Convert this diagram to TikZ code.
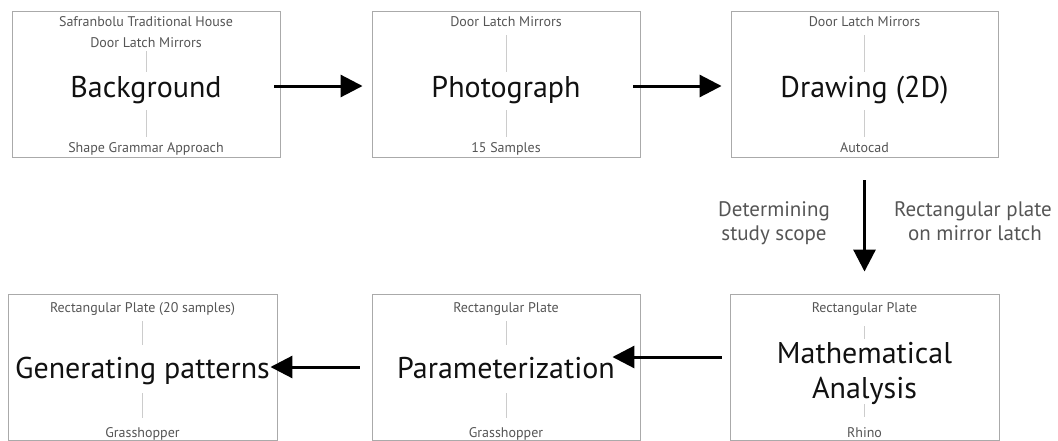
\documentclass[tikz,border=0pt]{standalone}
\usepackage{fontspec}
\setmainfont{PT Sans}
\usetikzlibrary{arrows.meta}
\definecolor{boxgray}{HTML}{AAAAAA}
\definecolor{smalltxt}{HTML}{555555}
\definecolor{sepgray}{HTML}{CCCCCC}
\definecolor{bigtxt}{HTML}{111111}
\begin{document}
\begin{tikzpicture}[x=1pt,y=-1pt,
  stagebox/.style={draw=boxgray,line width=0.9pt,minimum width=#1,minimum height=146pt,inner sep=0pt},
  small/.style={text=smalltxt,font=\fontsize{14}{16}\selectfont,inner sep=0pt,anchor=base,align=center},
  big/.style={text=bigtxt,font=\fontsize{30}{36}\selectfont,inner sep=0pt,anchor=base,align=center},
  lbl/.style={text=smalltxt,font=\fontsize{21}{25}\selectfont,inner sep=0pt,anchor=base,align=center},
  sep/.style={draw=sepgray,line width=0.9pt},
  flow/.style={line width=3pt,-{Triangle[length=22pt,width=22pt]}}]
\useasboundingbox (0,0) rectangle (1058,440);
% boxes
\node[stagebox=268pt] (b1) at (146,84) {};
\node[stagebox=268pt] (b2) at (506,84) {};
\node[stagebox=267pt] (b3) at (864.5,84) {};
\node[stagebox=269pt] (b4) at (142.5,367) {};
\node[stagebox=268pt] (b5) at (506,367) {};
\node[stagebox=269pt] (b6) at (864.5,367) {};
% box 1
\node[small] (t1a) at (146,26) {Safranbolu Traditional House};
\node[small] (t1b) at (146,47) {Door Latch Mirrors};
\node[big] (t1c) at (146,97) {Background};
\node[small] (t1d) at (146,152) {Shape Grammar Approach};
\coordinate (s1a) at (146,51); \coordinate (s1b) at (146,72);
\coordinate (s1c) at (146,110); \coordinate (s1d) at (146,137);
\draw[sep] (s1a) -- (s1b); \draw[sep] (s1c) -- (s1d);
% box 2
\node[small] (t2b) at (506,26) {Door Latch Mirrors};
\node[big] (t2c) at (506,97) {Photograph};
\node[small] (t2d) at (506,152) {15 Samples};
\coordinate (s2a) at (506,35); \coordinate (s2b) at (506,72);
\coordinate (s2c) at (506,110); \coordinate (s2d) at (506,137);
\draw[sep] (s2a) -- (s2b); \draw[sep] (s2c) -- (s2d);
% box 3
\node[small] (t3b) at (864.5,26) {Door Latch Mirrors};
\node[big] (t3c) at (864.5,97) {Drawing (2D)};
\node[small] (t3d) at (864.5,152) {Autocad};
\coordinate (s3a) at (864.5,35); \coordinate (s3b) at (864.5,72);
\coordinate (s3c) at (864.5,110); \coordinate (s3d) at (864.5,137);
\draw[sep] (s3a) -- (s3b); \draw[sep] (s3c) -- (s3d);
% box 4
\node[small] (t4b) at (142.5,312) {Rectangular Plate (20 samples)};
\node[big] (t4c) at (142.5,378) {Generating patterns};
\node[small] (t4d) at (142.5,437) {Grasshopper};
\coordinate (s4a) at (142.5,321); \coordinate (s4b) at (142.5,345);
\coordinate (s4c) at (142.5,393); \coordinate (s4d) at (142.5,418);
\draw[sep] (s4a) -- (s4b); \draw[sep] (s4c) -- (s4d);
% box 5
\node[small] (t5b) at (506,312) {Rectangular Plate};
\node[big] (t5c) at (506,378) {Parameterization};
\node[small] (t5d) at (506,437) {Grasshopper};
\coordinate (s5a) at (506,321); \coordinate (s5b) at (506,345);
\coordinate (s5c) at (506,393); \coordinate (s5d) at (506,418);
\draw[sep] (s5a) -- (s5b); \draw[sep] (s5c) -- (s5d);
% box 6
\node[small] (t6b) at (864.5,312) {Rectangular Plate};
\node[big] (t6c) at (864.5,363) {Mathematical};
\node[big] (t6d) at (864.5,398) {Analysis};
\node[small] (t6e) at (864.5,437) {Rhino};
\coordinate (s6a) at (864.5,326); \coordinate (s6b) at (864.5,339);
\coordinate (s6c) at (864.5,404); \coordinate (s6d) at (864.5,417);
\draw[sep] (s6a) -- (s6b); \draw[sep] (s6c) -- (s6d);
% arrows
\draw[flow] ([xshift=-6pt,yshift=-2pt]b1.east) -- ([xshift=-9pt,yshift=-2pt]b2.west);
\draw[flow] ([xshift=-7pt,yshift=-2pt]b2.east) -- ([xshift=-9pt,yshift=-2pt]b3.west);
\draw[flow] ([yshift=-23pt]b3.south) -- ([yshift=22pt]b6.north);
\draw[flow] ([xshift=-8pt,yshift=10pt]b6.west) -- ([xshift=-28pt,yshift=10pt]b5.east);
\draw[flow] ([xshift=-12pt]b5.west) -- ([xshift=-7pt]b4.east);
% arrow labels
\node[lbl] (l1) at (774,216) {Determining};
\node[lbl] (l2) at (774,240) {study scope};
\node[lbl] (l3) at (973,216) {Rectangular plate};
\node[lbl] (l4) at (975,240) {on mirror latch};
\end{tikzpicture}
\end{document}
